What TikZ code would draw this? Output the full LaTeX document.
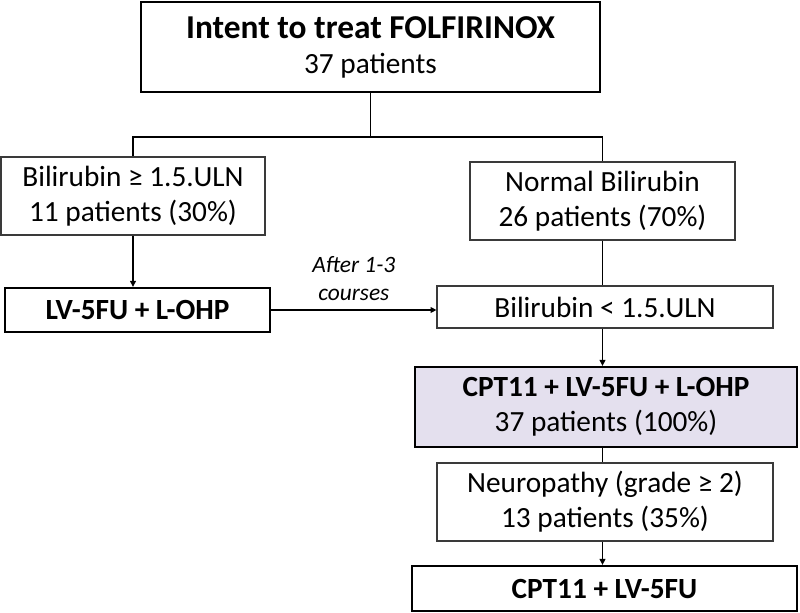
\documentclass[tikz,border=0pt]{standalone}
\usepackage{fontspec}
\setmainfont{Carlito}
\usepackage{tikz}
\usetikzlibrary{positioning,calc,arrows.meta}

\definecolor{boxline}{HTML}{3A3A3A}
\definecolor{lavender}{HTML}{E4E0EE}

\tikzset{
  thinbox/.style={draw=boxline,line width=1pt,fill=white,align=center,inner sep=0pt,
    font=\fontsize{25}{30}\selectfont},
  thickbox/.style={draw=black,line width=2pt,fill=white,align=center,inner sep=0pt,
    font=\fontsize{25}{30}\selectfont},
  link/.style={draw=black,line width=1pt},
  arr/.style={link,-{Triangle[length=5pt,width=5pt]}},
}

\begin{document}
\begin{tikzpicture}[x=0.03cm,y=-0.03cm]
			\useasboundingbox (0,0) rectangle (800,613);
			
			% boîte du haut
			\node[thickbox,minimum width=13.77cm,minimum height=2.7cm] (itt) at (370.5,47)
				{{\fontsize{28.5}{32}\selectfont\bfseries Intent to treat FOLFIRINOX}\\37 patients};
			
			% deux groupes selon la bilirubine
			\node[thinbox,minimum width=7.92cm,minimum height=2.34cm] (bilihigh) at (133,196)
				{Bilirubin ≥ 1.5.ULN\\11 patients (30\%)};
			\node[thinbox,minimum width=7.95cm,minimum height=2.34cm] (bilinorm) at (602.5,201)
				{Normal Bilirubin\\26 patients (70\%)};
			
			% traitements
			\node[thickbox,minimum width=7.95cm,minimum height=1.32cm] (lvohp) at (137.5,310)
				{\bfseries LV-5FU + L-OHP};
			\node[thinbox,minimum width=10.08cm,minimum height=1.26cm] (bililow) at (605,307)
				{Bilirubin < 1.5.ULN};
			\node[thickbox,fill=lavender,minimum width=11.46cm,minimum height=2.4cm] (folfiri) at (606,407)
				{{\bfseries CPT11 + LV-5FU + L-OHP}\\37 patients (100\%)};
			\node[thinbox,minimum width=10.08cm,minimum height=2.34cm] (neuro) at (605,502)
				{Neuropathy (grade ≥ 2)\\13 patients (35\%)};
			\node[thickbox,minimum width=11.55cm,minimum height=1.35cm] (cptlv) at (604.5,588.5)
				{\bfseries CPT11 + LV-5FU};
			
			% liaisons
			\coordinate (split) at (370.5,137);
			\draw[link] (itt.south) -- (split);
			\draw[link] (bilihigh.north) |- (split) -| (bilinorm.north);
			\draw[arr] (bilihigh.south) -- (lvohp.north -| bilihigh.south);
			\draw[arr] (lvohp.east) -- (lvohp.east -| bililow.west)
				node[midway,above=4pt,align=center,font=\fontsize{20}{24}\selectfont\itshape] (after) {After 1-3\\courses};
			\draw[link] (bilinorm.south) -- (bilinorm.south |- bililow.north);
			\draw[arr] (bililow.south -| bilinorm.south) -- (folfiri.north -| bilinorm.south);
			\draw[link] (folfiri.south -| bilinorm.south) -- (neuro.north -| bilinorm.south);
			\draw[arr] (neuro.south -| bilinorm.south) -- (cptlv.north -| bilinorm.south);
		\end{tikzpicture}
\end{document}
